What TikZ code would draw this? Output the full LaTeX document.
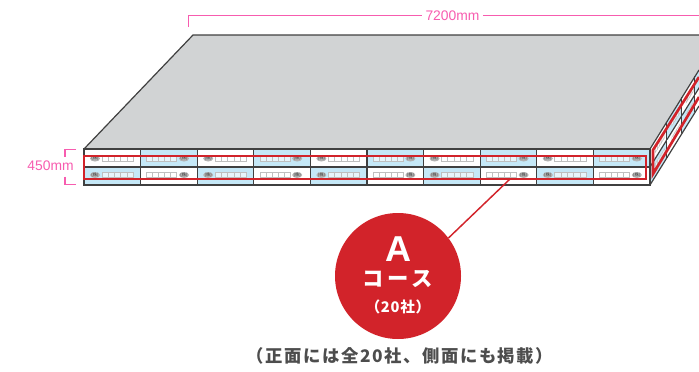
\documentclass[tikz,border=0pt]{standalone}
\usepackage{fontspec}
\setmainfont{Liberation Sans}
\newfontfamily\jpfont{Noto Sans CJK JP}
\usetikzlibrary{shapes.geometric}
\definecolor{dimpink}{HTML}{F75CAF}
\definecolor{roofgray}{HTML}{D1D3D4}
\definecolor{edgegray}{HTML}{404040}
\definecolor{cellblue}{HTML}{C5E8F7}
\definecolor{bandred}{HTML}{D2232A}
\definecolor{notegray}{HTML}{4D4D4D}
\tikzset{
  dimline/.style={draw=dimpink,line width=1pt},
  dimtext/.style={text=dimpink,font=\fontsize{10.4}{10.4}\selectfont,inner sep=2.4pt},
  edgeline/.style={draw=edgegray,line width=0.9pt},
  slot/.style={draw=black!25,line width=0.3pt,fill=white,fill opacity=0.6},
  badge/.style={fill=black!30,ellipse,inner sep=0pt,minimum width=7.5pt,minimum height=4.5pt},
  badgetext/.style={text=black!75,font=\jpfont\fontsize{3.2}{3}\selectfont,inner sep=0pt},
  band/.style={draw=bandred,line width=2pt},
}
% one advert: #1 = x of the cell, #2 = y of the row middle, #3 = 0 name on the left, 1 on the right
\newcommand{\advert}[3]{
  \ifnum#3=0
    \foreach \s in {0,...,4} \draw[slot] ({#1+17.7+\s*6.3},{#2-2.6}) rectangle ++(6.3,5.2);
    \node[badge] at ({#1+11},#2) {};
    \node[badgetext] at ({#1+11},#2) {(株)};
  \else
    \foreach \s in {0,...,4} \draw[slot] ({#1+6+\s*6},{#2-2.6}) rectangle ++(6,5.2);
    \node[badge] at ({#1+43.4},#2) {};
    \node[badgetext] at ({#1+43.4},#2) {(株)};
  \fi
}
\begin{document}
\begin{tikzpicture}[x=0.75pt,y=-0.75pt]
  \useasboundingbox (0,0) rectangle (699,371);

  % roof
  \fill[roofgray] (84,149) -- (193,35) -- (699,35) -- (699,70) -- (650,149) -- cycle;
  \draw[edgeline] (84,149) -- (193,35) -- (699,35);

  % front panels
  \foreach \c in {0,...,9}{
    \pgfmathsetmacro{\xc}{84+\c*56.6}
    \pgfmathtruncatemacro{\flip}{mod(\c,2)}
    \ifnum\flip=0
      \fill[white] (\xc,149) rectangle ++(56.6,18);
      \fill[cellblue] (\xc,167) rectangle ++(56.6,18);
    \else
      \fill[cellblue] (\xc,149) rectangle ++(56.6,18);
      \fill[white] (\xc,167) rectangle ++(56.6,18);
    \fi
    \advert{\xc}{158.5}{\flip}
    \advert{\xc}{175}{\flip}
    \draw[edgeline] (\xc,149) -- (\xc,185);
  }
  \draw[edgeline] (84,149) rectangle (650,185);
  \draw[edgeline] (84,167) -- (650,167);

  % side panels
  \begin{scope}
    \clip (650,0) rectangle (699,371);
    \foreach \xs/\w/\upper/\lower in {650/17/white/cellblue,667/15/cellblue/white,682/13/white/cellblue,695/13/cellblue/white}{
      \pgfmathsetmacro{\ys}{149-(\xs-650)*1.612}
      \pgfmathsetmacro{\ks}{\w/56.6}
      \pgfmathsetmacro{\ms}{\ks*1.612}
      \begin{scope}[shift={(\xs,\ys)},cm={\ks,\ms,0,1,(0,0)}]
        \fill[\upper] (0,0) rectangle (56.6,18);
        \fill[\lower] (0,18) rectangle (56.6,36);
        \foreach \r in {9.5,26}
          \foreach \s in {0,...,4} \draw[slot] ({18+\s*6.3},{\r-2.6}) rectangle ++(6.3,5.2);
        \draw[edgeline] (0,18) -- (56.6,18);
        \draw[edgeline] (56.6,0) -- (56.6,36);
      \end{scope}
    }
    \draw[edgeline] (650,149) -- (699,70);
    \draw[edgeline] (650,185) -- (699,106);
    \draw[band] (699,77) -- (653,150) -- (653,174) -- (699,97);
  \end{scope}
  \draw[edgeline] (650,149) -- (650,185);

  % red band
  \draw[band] (84,179) -- (84,156) -- (646,156) -- (646,179) -- cycle;

  % leader and circle
  \coordinate (bandend) at (510,179);
  \node[circle,fill=bandred,minimum size=94.5pt,inner sep=0pt] (coursecircle) at (398,276) {};
  \draw[draw=bandred,line width=1.1pt] (coursecircle.37) -- (bandend);
  \node[text=white,font=\bfseries\fontsize{27}{27}\selectfont] (coursea) at (398,249.5) {A};
  \node[text=white,font=\jpfont\bfseries\fontsize{16}{16}\selectfont\addfontfeature{LetterSpace=18}] (coursename) at (398,279) {コース};
  \node[text=white,font=\jpfont\bfseries\fontsize{11}{11}\selectfont\addfontfeature{LetterSpace=5}] (coursecount) at (398,307) {（20社）};
  \node[text=notegray,font=\jpfont\bfseries\fontsize{13}{13}\selectfont\addfontfeature{LetterSpace=9}] (coursenote) at (400,356) {（正面には全20社、側面にも掲載）};

  % dimensions
  \node[dimtext] (widthlabel) at (452.5,15.5) {7200mm};
  \coordinate (widthstart) at (188.5,27);
  \coordinate (widthcorner) at (188.5,15.5);
  \coordinate (widthend) at (699,15.5);
  \draw[dimline] (widthstart) -- (widthcorner) -- (widthlabel);
  \draw[dimline] (widthlabel) -- (widthend);
  \node[dimtext] (heightlabel) at (50.5,165.5) {450mm};
  \draw[dimline] (76,149.5) -- (65,149.5) -- (65,156.5);
  \draw[dimline] (65,176.5) -- (65,184.5) -- (76,184.5);
\end{tikzpicture}
\end{document}
